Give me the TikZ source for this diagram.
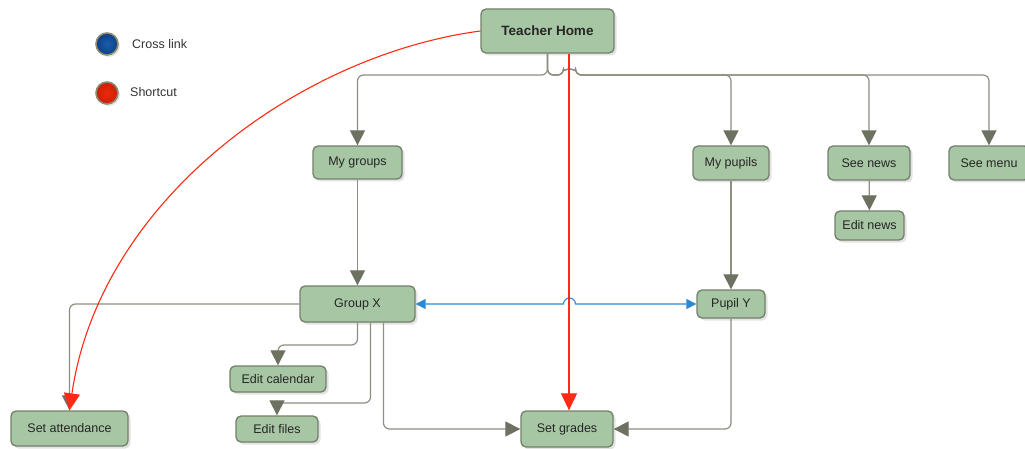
\documentclass[tikz,border=0pt]{standalone}
\usepackage{fontspec}
\setmainfont{Liberation Sans}
\usetikzlibrary{arrows.meta,shadows,calc}

\definecolor{boxfill}{HTML}{A7C6A3}
\definecolor{boxline}{HTML}{737E6B}
\definecolor{linkgray}{HTML}{8E8E82}
\definecolor{tipgray}{HTML}{6D7161}
\definecolor{crossblue}{HTML}{2A8AD6}
\definecolor{shortred}{HTML}{FF2A14}
\definecolor{dotrim}{HTML}{8C8C72}
\definecolor{bluein}{HTML}{1B5DAE}
\definecolor{blueout}{HTML}{0C3F84}
\definecolor{redin}{HTML}{EC2A0C}
\definecolor{redout}{HTML}{CC1E06}

\tikzset{
  page/.style={draw=boxline, line width=1.3pt, fill=boxfill, rounded corners=5pt,
    inner sep=0pt, font=\fontsize{12.5}{15}\selectfont, text=black!85,
    drop shadow={shadow xshift=2.5pt, shadow yshift=-2.5pt, opacity=0.22}},
  link/.style={draw=linkgray, line width=1.2pt, rounded corners=6pt,
    -{Triangle[width=15pt, length=15pt, color=tipgray]}},
  cross/.style={draw=crossblue, line width=1.1pt,
    {Triangle[width=10pt, length=10pt]}-{Triangle[width=10pt, length=10pt]}},
  shortlink/.style={draw=shortred, line width=1.1pt,
    -{Triangle[width=16pt, length=17pt]}},
  dot/.style={circle, minimum size=22pt, inner sep=0pt, draw=dotrim, line width=1.6pt,
    drop shadow={shadow xshift=2pt, shadow yshift=-2pt, opacity=0.2}},
  legend/.style={anchor=west, inner sep=0pt, font=\fontsize{12.5}{15}\selectfont, text=black!80}
}

\begin{document}
\begin{tikzpicture}[x=1pt, y=-1pt]
        \useasboundingbox (0,0) rectangle (1025,449);

        % legend
        \node[dot, inner color=bluein, outer color=blueout] (xdot) at (107,44) {};
        \node[legend] (xlbl) at (132,44) {Cross link};
        \node[dot, inner color=redin, outer color=redout] (sdot) at (107,93) {};
        \node[legend] (slbl) at (130,92) {Shortcut};

        % pages
        \node[page, minimum width=133pt, minimum height=44pt,
              font=\fontsize{13.5}{15}\selectfont\bfseries] (tea) at (547.5,31) {Teacher Home};
        \node[page, minimum width=89pt, minimum height=33pt] (grp) at (357.5,162.5) {My groups};
        \node[page, minimum width=76pt, minimum height=34pt] (pup) at (731,163) {My pupils};
        \node[page, minimum width=82pt, minimum height=34pt] (news) at (869,163) {See news};
        \node[page, minimum width=80pt, minimum height=34pt] (menu) at (989,163) {See menu};
        \node[page, minimum width=69pt, minimum height=29pt] (enews) at (869.5,225.5) {Edit news};
        \node[page, minimum width=115pt, minimum height=36pt] (grx) at (357.5,304) {Group X};
        \node[page, minimum width=68pt, minimum height=28pt] (puy) at (731,304) {Pupil Y};
        \node[page, minimum width=96pt, minimum height=26pt] (cal) at (278,379) {Edit calendar};
        \node[page, minimum width=82pt, minimum height=26pt] (files) at (277,429) {Edit files};
        \node[page, minimum width=117pt, minimum height=35pt] (att) at (69.5,428.5) {Set attendance};
        \node[page, minimum width=92pt, minimum height=36pt] (grd) at (567,429) {Set grades};

        \coordinate (split) at (547.5,75);
        \coordinate (redtop) at ($(tea.south)+(21.5,0)$);

        % tree links
        \draw[link] (tea.south) |- (grp.north |- split) -- (grp.north);
        \draw[link] (tea.south) |- (563.5,75) arc[start angle=180, end angle=360, radius=6]
              -- (pup.north |- split) -- (pup.north);
        \draw[link] (tea.south) |- (563.5,75) arc[start angle=180, end angle=360, radius=6]
              -- (news.north |- split) -- (news.north);
        \draw[link] (tea.south) |- (563.5,75) arc[start angle=180, end angle=360, radius=6]
              -- (menu.north |- split) -- (menu.north);
        \draw[link] (news) -- (enews);
        \draw[link] (grp) -- (grx);
        \draw[link] (pup) -- (puy);
        \draw[link] (grx.west) -| (att.north);
        \draw[link] (grx.south) |- (cal.north |- 0,345) -- (cal.north);
        \draw[link] ($(grx.south)+(13,0)$) |- (files.north |- 0,403) -- (files.north);
        \draw[link] ($(grx.south)+(26,0)$) |- (grd.west);
        \draw[link] (puy.south) |- (grd.east);

        % cross link
        \draw[cross] (grx.east) -- (563.5,304) arc[start angle=180, end angle=360, radius=6] -- (puy.west);

        % shortcuts
        \draw[shortlink] (redtop) -- (redtop |- grd.north);
        \draw[shortlink] (tea.west) .. controls (300,55) and (100,200) .. (att.north);
\end{tikzpicture}
\end{document}
